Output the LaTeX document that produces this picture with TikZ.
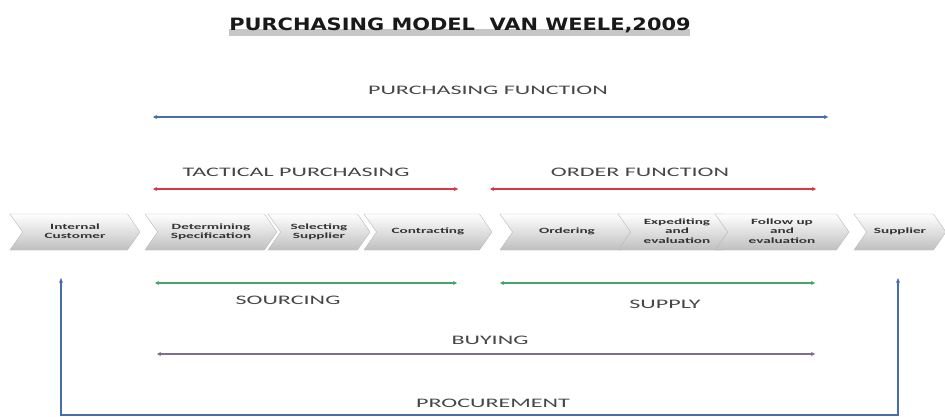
\documentclass[tikz,border=0pt]{standalone}
\usepackage{fontspec}
\usepackage{graphicx}
\setmainfont{Carlito}
\newfontfamily\titlefont{DejaVu Sans}
\usetikzlibrary{shapes.symbols,arrows.meta}
\definecolor{cblue}{RGB}{70,110,170}
\definecolor{cred}{RGB}{215,55,70}
\definecolor{cgreen}{RGB}{70,165,110}
\definecolor{cpurple}{RGB}{125,110,145}
\definecolor{ctext}{RGB}{70,70,70}
\newcommand\ctxt[1]{\scalebox{1.9}[1]{\begin{tabular}{@{}c@{}}#1\end{tabular}}}
\newcommand\ltxt[1]{\scalebox{1.85}[1]{#1}}
\begin{document}
\begin{tikzpicture}[x=1pt,y=-1pt,
  chev/.style={shape=signal, signal to=east, signal from=west, signal pointer angle=110,
    draw=gray!55, top color=white, bottom color=gray!50, minimum height=36, inner sep=1pt,
    font=\fontsize{8}{9.5}\selectfont\bfseries, text=black!80, align=center},
  lab/.style={font=\fontsize{13}{14}\selectfont, text=ctext},
  span/.style={line width=1.6pt, {Stealth[length=4pt,width=4pt]}-{Stealth[length=4pt,width=4pt]}}]
\useasboundingbox[fill=white] (0,0) rectangle (945,417);
% title
\fill[gray!45] (229,29) rectangle (690,36);
\node[font=\titlefont\fontsize{17}{19}\selectfont\bfseries, text=black!90] (title) at (460,25) {\scalebox{1.23}[1]{PURCHASING MODEL\ \ VAN WEELE,2009}};
% purchasing function
\node[lab] (pf) at (488,90) {\ltxt{PURCHASING FUNCTION}};
\coordinate (pfL) at (153,117); \coordinate (pfR) at (828,117);
\draw[span, cblue] (pfL) -- (pfR);
% tactical / order
\node[lab] (tp) at (296,172) {\ltxt{TACTICAL PURCHASING}};
\node[lab] (of) at (640,172) {\ltxt{ORDER FUNCTION}};
\coordinate (tpL) at (153,189); \coordinate (tpR) at (458,189);
\coordinate (ofL) at (490,189); \coordinate (ofR) at (816,189);
\draw[span, cred] (tpL) -- (tpR);
\draw[span, cred] (ofL) -- (ofR);
% chevrons
\node[chev, minimum width=130] (ic) at (75,232) {\ctxt{Internal\\Customer}};
\node[chev, minimum width=132] (ds) at (211,232) {\ctxt{Determining\\Specification}};
\node[chev, minimum width=102] (ss) at (319,232) {\ctxt{Selecting\\Supplier}};
\node[chev, minimum width=128] (ct) at (428,232) {\ctxt{Contracting}};
\node[chev, minimum width=134] (or) at (567,232) {\ctxt{Ordering}};
\node[chev, minimum width=118] (ex) at (677,232) {\ctxt{Expediting\\and\\evaluation}};
\node[chev, minimum width=134] (fu) at (782,232) {\ctxt{Follow up\\and\\evaluation}};
\node[chev, minimum width=92] (su) at (900,232) {\ctxt{Supplier}};
% sourcing / supply
\coordinate (soL) at (155,283); \coordinate (soR) at (457,283);
\coordinate (spL) at (500,283); \coordinate (spR) at (815,283);
\draw[span, cgreen] (soL) -- (soR);
\draw[span, cgreen] (spL) -- (spR);
\node[lab] (so) at (288,300) {\ltxt{SOURCING}};
\node[lab] (sp) at (665,304) {\ltxt{SUPPLY}};
% buying
\node[lab] (by) at (490,340) {\ltxt{BUYING}};
\coordinate (byL) at (157,354); \coordinate (byR) at (815,354);
\draw[span, cpurple] (byL) -- (byR);
% procurement
\node[lab] (pr) at (493,403) {\ltxt{PROCUREMENT}};
\coordinate (pcL) at (61,278); \coordinate (pcR) at (898,278);
\draw[cblue, line width=1.6pt, {Stealth[length=5pt,width=4pt]}-{Stealth[length=5pt,width=4pt]}]
  (pcL) -- (61,415) -- (898,415) -- (pcR);
\end{tikzpicture}
\end{document}
